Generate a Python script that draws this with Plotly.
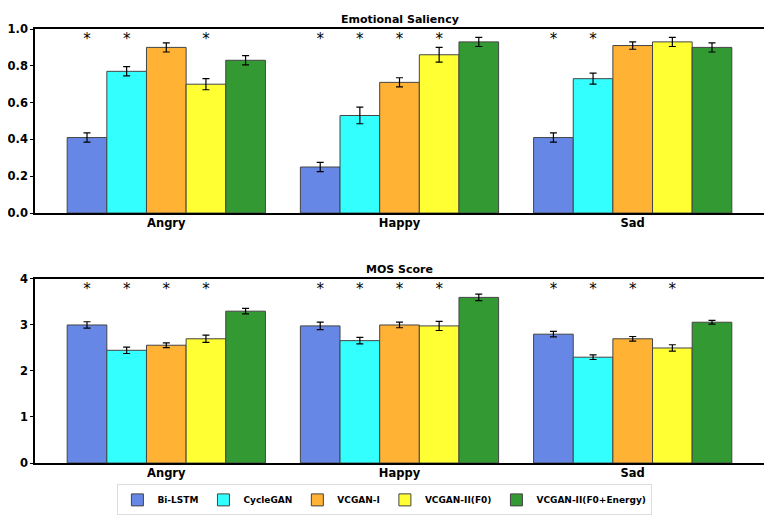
import plotly.graph_objects as go
from plotly.subplots import make_subplots

categories = ["Angry", "Happy", "Sad"]
models = ["Bi-LSTM", "CycleGAN", "VCGAN-I", "VCGAN-II(F0)", "VCGAN-II(F0+Energy)"]
colors = ["#6787E6", "#33FFFF", "#FFB233", "#FFFF33", "#339933"]

# Emotional Saliency (rows = models, cols = categories)
sal_vals = [
    [0.41, 0.25, 0.41],
    [0.77, 0.53, 0.73],
    [0.90, 0.71, 0.91],
    [0.70, 0.86, 0.93],
    [0.83, 0.93, 0.90],
]
sal_err = [
    [0.025, 0.025, 0.025],
    [0.025, 0.045, 0.03],
    [0.025, 0.025, 0.02],
    [0.03, 0.04, 0.025],
    [0.025, 0.025, 0.025],
]
sal_star = [
    [1, 1, 1],
    [1, 1, 1],
    [0, 1, 0],
    [1, 1, 0],
    [0, 0, 0],
]

# MOS Score
mos_vals = [
    [3.00, 2.98, 2.80],
    [2.45, 2.66, 2.30],
    [2.56, 3.00, 2.70],
    [2.70, 2.98, 2.50],
    [3.30, 3.60, 3.06],
]
mos_err = [
    [0.07, 0.08, 0.06],
    [0.07, 0.07, 0.05],
    [0.05, 0.06, 0.05],
    [0.08, 0.10, 0.07],
    [0.06, 0.07, 0.04],
]
mos_star = [
    [1, 1, 1],
    [1, 1, 1],
    [1, 1, 1],
    [1, 1, 1],
    [0, 0, 0],
]

sal_star_y = 0.94
mos_star_y = 3.76
group_width = 0.85

fig = make_subplots(rows=2, cols=1, vertical_spacing=0.152)
xs = list(range(len(categories)))
bw = group_width / len(models)
FONT = "DejaVu Sans"

for row, vals, errs, stars, sy in [
    (1, sal_vals, sal_err, sal_star, sal_star_y),
    (2, mos_vals, mos_err, mos_star, mos_star_y),
]:
    for j, m in enumerate(models):
        fig.add_trace(go.Bar(
            x=xs, y=vals[j], name=m, legendgroup=m, showlegend=(row == 1),
            marker=dict(color=colors[j], line=dict(color="#444444", width=1)),
            error_y=dict(type="data", array=errs[j], color="black", thickness=1.2, width=3.5),
        ), row=row, col=1)
    sx, syy = [], []
    for j in range(len(models)):
        for i in xs:
            if stars[j][i]:
                sx.append(i + (j - (len(models) - 1) / 2) * bw)
                syy.append(sy)
    fig.add_trace(go.Scatter(
        x=sx, y=syy, mode="text", text=["*"] * len(sx), showlegend=False,
        textfont=dict(family=FONT, size=15, color="black"), hoverinfo="skip",
    ), row=row, col=1)

axis_common = dict(showline=True, linecolor="black", linewidth=1.5, mirror=True,
                   showgrid=False, zeroline=False, automargin=False,
                   tickfont=dict(family=FONT, size=11.5, color="black", weight="bold"))

for r in (1, 2):
    fig.update_xaxes(range=[-0.563, 2.563], tickvals=xs, ticktext=categories, ticks="",
                     ticklabelstandoff=-2, row=r, col=1, **axis_common)
fig.update_yaxes(range=[0, 1.0], tickvals=[0, 0.2, 0.4, 0.6, 0.8, 1.0],
                 ticktext=["0.0", "0.2", "0.4", "0.6", "0.8", "1.0"],
                 ticks="outside", ticklen=3, tickcolor="black", row=1, col=1, **axis_common)
fig.update_yaxes(range=[0, 4], tickvals=[0, 1, 2, 3, 4],
                 ticks="outside", ticklen=3, tickcolor="black", row=2, col=1, **axis_common)

fig.update_layout(
    width=772, height=518,
    margin=dict(l=27, r=16, t=21, b=63, autoexpand=False),
    barmode="group", bargap=1 - group_width, bargroupgap=0,
    plot_bgcolor="white", paper_bgcolor="white",
    font=dict(family=FONT, color="black"),
    legend=dict(orientation="h", x=0.48, xanchor="center", y=-0.085, yanchor="middle",
                bordercolor="#dddddd", borderwidth=1, itemwidth=30, tracegroupgap=0,
                font=dict(family=FONT, size=9, color="black", weight="bold")),
    annotations=[
        dict(text="<b>Emotional Saliency</b>", x=0.5, y=1.0, xref="paper", yref="paper",
             xanchor="center", yanchor="bottom", showarrow=False, yshift=1,
             font=dict(family=FONT, size=11, color="black")),
        dict(text="<b>MOS Score</b>", x=0.5, y=0.424, xref="paper", yref="paper",
             xanchor="center", yanchor="bottom", showarrow=False, yshift=1,
             font=dict(family=FONT, size=11, color="black")),
    ],
)

fig.write_html("out.html")
